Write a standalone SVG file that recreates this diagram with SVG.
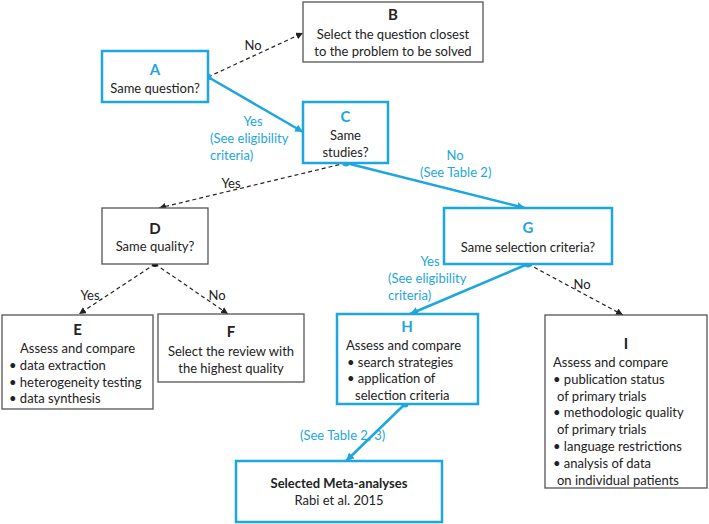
<svg xmlns="http://www.w3.org/2000/svg" width="709" height="524" viewBox="0 0 709 524">
<style>
text{font-family:Lato,"Liberation Sans",sans-serif;font-size:13px;fill:#222}
.t{font-weight:bold;font-size:15px}
.bt{fill:#1DA6DF}
.c{text-anchor:middle}
.bx{fill:#fff;stroke:#555;stroke-width:1.3}
.bb{fill:#fff;stroke:#1DA6DF;stroke-width:2.5}
.d{fill:none;stroke:#222;stroke-width:1.2;stroke-dasharray:4 3}
.s{fill:none;stroke:#1DA6DF;stroke-width:2.5}
.lb{font-size:13px}
</style>
<defs>
<marker id="ak" viewBox="0 0 10 10" refX="10" refY="5" markerWidth="7" markerHeight="7" orient="auto" markerUnits="userSpaceOnUse"><path d="M0,0L10,5L0,10z" fill="#222"/></marker>
<marker id="ab" viewBox="0 0 10 10" refX="10" refY="5" markerWidth="8" markerHeight="8" orient="auto" markerUnits="userSpaceOnUse"><path d="M0,0L10,5L0,10z" fill="#1DA6DF"/></marker>
</defs>
<rect width="709" height="524" fill="#fff"/>
<g id="connectors">
<line class="d" x1="208" y1="77" x2="303" y2="33" marker-end="url(#ak)"/>
<line class="s" x1="208" y1="77" x2="303" y2="132" marker-end="url(#ab)"/>
<line class="d" x1="346" y1="163" x2="159" y2="208" marker-end="url(#ak)"/>
<line class="s" x1="346" y1="163" x2="525" y2="208" marker-end="url(#ab)"/>
<line class="d" x1="155" y1="264" x2="79" y2="314" marker-end="url(#ak)"/>
<line class="d" x1="155" y1="264" x2="228" y2="314" marker-end="url(#ak)"/>
<line class="s" x1="528" y1="264" x2="410" y2="314" marker-end="url(#ab)"/>
<line class="d" x1="528" y1="264" x2="623" y2="315" marker-end="url(#ak)"/>
<line class="s" x1="405" y1="404" x2="346" y2="461" marker-end="url(#ab)"/>
<circle cx="208" cy="77" r="3.5" fill="#1DA6DF"/>
<circle cx="346" cy="163" r="3.5" fill="#1DA6DF"/>
<circle cx="155" cy="264" r="3" fill="#111"/>
<circle cx="528" cy="264" r="3.5" fill="#1DA6DF"/>
<circle cx="405" cy="404" r="3.5" fill="#1DA6DF"/>
<text class="lb c" x="253" y="50">No</text>
<text class="lb bt c" x="253" y="126">Yes</text>
<text class="lb bt" x="210" y="143">(See eligibility</text>
<text class="lb bt" x="210" y="160">criteria)</text>
<text class="lb bt c" x="455" y="160">No</text>
<text class="lb bt" x="420" y="177">(See Table 2)</text>
<text class="lb c" x="231" y="188">Yes</text>
<text class="lb c" x="90" y="300">Yes</text>
<text class="lb c" x="217" y="300">No</text>
<text class="lb bt c" x="430" y="266">Yes</text>
<text class="lb bt" x="388" y="283">(See eligibility</text>
<text class="lb bt" x="388" y="300">criteria)</text>
<text class="lb c" x="582" y="289">No</text>
<text class="lb bt" x="300" y="440">(See Table 2, 3)</text>
</g>
<g id="A">
<rect class="bb" x="102" y="51" width="106" height="51"/>
<text class="t bt c" x="155" y="75">A</text>
<text class="c" x="155" y="93">Same question?</text>
</g>
<g id="B">
<rect class="bx" x="303" y="2" width="180" height="60"/>
<text class="t c" x="393" y="20">B</text>
<text class="c" x="393" y="39">Select the question closest</text>
<text class="c" x="393" y="56">to the problem to be solved</text>
</g>
<g id="C">
<rect class="bb" x="303" y="102" width="85" height="61"/>
<text class="t bt c" x="345.5" y="122">C</text>
<text class="c" x="345.5" y="140">Same</text>
<text class="c" x="345.5" y="157">studies?</text>
</g>
<g id="D">
<rect class="bx" x="102" y="208" width="106" height="56"/>
<text class="t c" x="155" y="234">D</text>
<text class="c" x="155" y="251">Same quality?</text>
</g>
<g id="G">
<rect class="bb" x="444" y="208" width="168" height="56"/>
<text class="t bt c" x="528" y="233">G</text>
<text class="c" x="528" y="252">Same selection criteria?</text>
</g>
<g id="E">
<rect class="bx" x="2" y="315" width="151" height="94"/>
<text class="t c" x="77.5" y="335">E</text>
<text class="c" x="77.5" y="353">Assess and compare</text>
<text x="9" y="370">• data extraction</text>
<text x="9" y="387">• heterogeneity testing</text>
<text x="9" y="403">• data synthesis</text>
</g>
<g id="F">
<rect class="bx" x="158" y="314" width="146" height="68"/>
<text class="t c" x="231" y="337">F</text>
<text class="c" x="231" y="356">Select the review with</text>
<text class="c" x="231" y="373">the highest quality</text>
</g>
<g id="H">
<rect class="bb" x="337" y="314" width="141" height="90"/>
<text class="t bt c" x="407" y="332">H</text>
<text x="346" y="350">Assess and compare</text>
<text x="347" y="367">• search strategies</text>
<text x="347" y="383">• application of</text>
<text x="355" y="400">selection criteria</text>
</g>
<g id="I">
<rect class="bx" x="545" y="315" width="162" height="173"/>
<text class="t c" x="626" y="349">I</text>
<text x="553" y="367">Assess and compare</text>
<text x="553" y="384">• publication status</text>
<text x="557" y="401">of primary trials</text>
<text x="553" y="417">• methodologic quality</text>
<text x="557" y="434">of primary trials</text>
<text x="553" y="451">• language restrictions</text>
<text x="553" y="468">• analysis of data</text>
<text x="557" y="485">on individual patients</text>
</g>
<g id="S">
<rect class="bb" x="236" y="461" width="206" height="61"/>
<text class="c" x="339" y="488" font-weight="bold">Selected Meta-analyses</text>
<text class="c" x="339" y="505">Rabi et al. 2015</text>
</g>
</svg>
